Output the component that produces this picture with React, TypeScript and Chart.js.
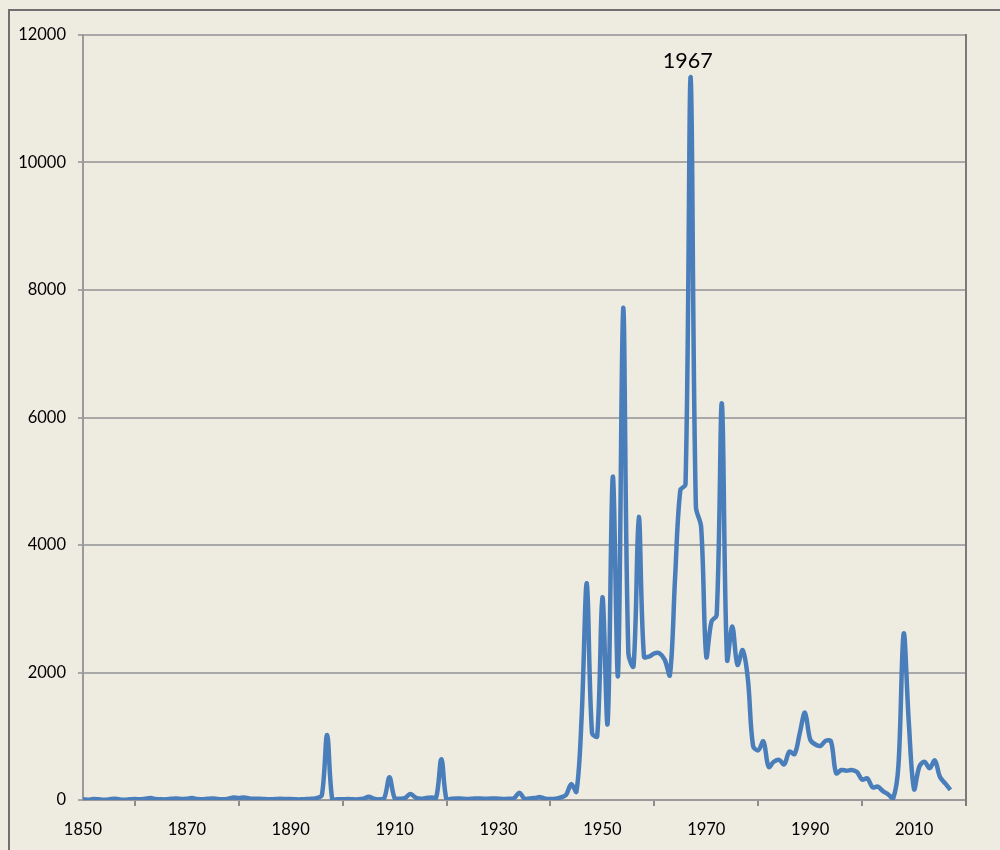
import React, { useEffect, useRef } from "react";
import { Chart, registerables } from "chart.js";

Chart.register(...registerables);

const startYear = 1850;
const values: number[] = [
  // 1850-1859
  10, 5, 15, 10, 5, 10, 20, 10, 5, 10,
  // 1860-1869
  15, 10, 20, 30, 15, 10, 10, 20, 25, 15,
  // 1870-1879
  20, 30, 15, 10, 20, 25, 15, 10, 20, 40,
  // 1880-1889
  30, 40, 25, 20, 20, 15, 10, 15, 20, 15,
  // 1890-1899
  15, 10, 10, 15, 20, 30, 80, 1020, 0, 10,
  // 1900-1909
  10, 15, 10, 10, 20, 50, 20, 10, 30, 355,
  // 1910-1919
  30, 20, 30, 95, 40, 20, 30, 40, 40, 640,
  // 1920-1929
  0, 20, 25, 20, 15, 20, 25, 20, 20, 25,
  // 1930-1939
  20, 15, 20, 30, 115, 20, 25, 30, 45, 20,
  // 1940-1949
  15, 20, 40, 80, 250, 130, 1300, 3400, 1050, 1000,
  // 1950-1959
  3180, 1200, 5070, 1960, 7720, 2300, 2100, 4440, 2250, 2250,
  // 1960-1969
  2300, 2300, 2200, 1960, 3500, 4860, 4950, 11340, 4600, 4290,
  // 1970-1979
  2250, 2800, 2900, 6220, 2200, 2720, 2120, 2350, 1900, 850,
  // 1980-1989
  780, 920, 520, 600, 630, 560, 760, 720, 1050, 1370,
  // 1990-1999
  950, 870, 850, 930, 920, 420, 470, 460, 470, 440,
  // 2000-2009
  320, 340, 200, 210, 140, 90, 30, 550, 2610, 1200,
  // 2010-2017
  170, 520, 600, 500, 620, 360, 260, 160,
];

const xMin = 1850;
const xMax = 2020;
const yMax = 12000;
const yStep = 2000;
const peakLabel = "1967";
const peakYear = 1967;

const FONT = "Lato, 'Open Sans', sans-serif";

export default function App() {
  const ref = useRef<HTMLCanvasElement | null>(null);

  useEffect(() => {
    const canvas = ref.current;
    if (!canvas) return;
    const points = values.map((v, i) => ({ x: startYear + i, y: v }));
    const peakValue = values[peakYear - startYear];

    const bgPlugin = {
      id: "bg",
      beforeDraw(chart: any) {
        const c = chart.ctx;
        c.save();
        c.fillStyle = "#eeece1";
        c.fillRect(0, 0, chart.width, chart.height);
        c.strokeStyle = "#707070";
        c.lineWidth = 2;
        c.beginPath();
        c.moveTo(9, chart.height);
        c.lineTo(9, 10);
        c.lineTo(chart.width, 10);
        c.stroke();
        c.restore();
      },
      afterDraw(chart: any) {
        const c = chart.ctx;
        const a = chart.chartArea;
        c.save();
        c.strokeStyle = "#7a7a7a";
        c.lineWidth = 2;
        c.beginPath();
        c.moveTo(a.right, a.top - 1);
        c.lineTo(a.right, a.bottom + 6);
        c.stroke();
        c.restore();
      },
      afterDatasetsDraw(chart: any) {
        const c = chart.ctx;
        const xs = chart.scales.x;
        const ys = chart.scales.y;
        c.save();
        c.fillStyle = "#000";
        c.font = `21.5px ${FONT}`;
        c.textAlign = "center";
        c.textBaseline = "middle";
        c.fillText(peakLabel, xs.getPixelForValue(peakYear) - 3, ys.getPixelForValue(peakValue) - 16);
        c.restore();
      },
    };

    const chart = new Chart(canvas, {
      type: "line",
      data: {
        datasets: [
          {
            data: points,
            borderColor: "#4a7ebb",
            borderWidth: 4.5,
            pointRadius: 0,
            tension: 0.35,
            fill: false,
          },
        ],
      },
      options: {
        animation: false,
        responsive: false,
        devicePixelRatio: 1,
        layout: { padding: { top: 35, right: 34, left: 0, bottom: 0 } },
        plugins: {
          legend: { display: false },
          title: { display: false },
          tooltip: { enabled: false },
        },
        scales: {
          x: {
            type: "linear",
            min: xMin,
            max: xMax,
            afterFit: (s: any) => {
              s.height = 50;
            },
            ticks: {
              stepSize: 10,
              autoSkip: false,
              maxRotation: 0,
              padding: 14,
              color: "#000",
              font: { family: FONT, size: 16.5 },
              callback: (v: any) => ((Number(v) - xMin) % 20 === 0 && Number(v) < xMax ? String(v) : ""),
            },
            grid: {
              drawOnChartArea: false,
              drawTicks: true,
              tickLength: 6,
              lineWidth: 2,
              tickColor: (ctx: any) =>
                ctx.tick && (ctx.tick.value - xMin) % 20 === 10 ? "#8c8c8c" : "rgba(0,0,0,0)",
            },
            border: { color: "#9a9a9a", width: 2 },
          },
          y: {
            min: 0,
            max: yMax,
            afterFit: (s: any) => {
              s.width = 83;
            },
            ticks: {
              stepSize: yStep,
              padding: 12,
              color: "#000",
              font: { family: FONT, size: 16.5 },
              callback: (v: any) => String(v),
            },
            grid: {
              color: "#a8a8a8",
              lineWidth: 2,
              tickLength: 5,
            },
            border: { color: "#9a9a9a", width: 2 },
          },
        },
      },
      plugins: [bgPlugin],
    } as any);

    return () => chart.destroy();
  }, []);

  return (
    <div style={{ position: "absolute", left: 0, top: 0, width: 1000, height: 850 }}>
      <canvas ref={ref} width={1000} height={850} style={{ display: "block", width: 1000, height: 850 }} />
    </div>
  );
}
